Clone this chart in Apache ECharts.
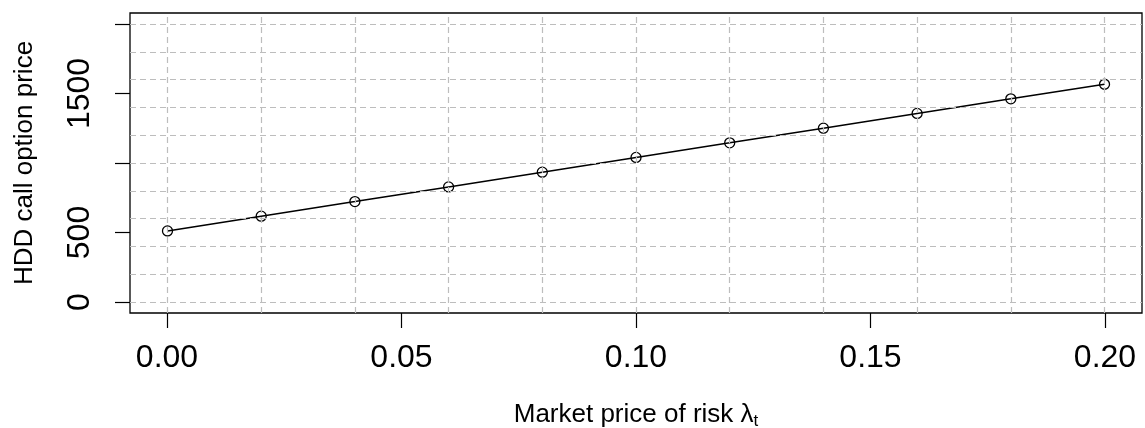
<!DOCTYPE html>
<html>
<head>
<meta charset="utf-8">
<script src="https://cdn.jsdelivr.net/npm/echarts@6/dist/echarts.min.js"></script>
<style>
html, body { margin: 0; padding: 0; background: #fff; }
#main { width: 1145px; height: 428px; }
</style>
</head>
<body>
<div id="main"></div>
<script>
// market price of risk (x) and HDD call option price (y)
var lambdaVals = [0, 0.02, 0.04, 0.06, 0.08, 0.10, 0.12, 0.14, 0.16, 0.18, 0.20];
var optionPrice = [511, 617, 722, 828, 934, 1040, 1145, 1251, 1357, 1462, 1567];

// grid lines (dashed), like R's grid()
var xGridVals = [0, 0.02, 0.04, 0.06, 0.08, 0.10, 0.12, 0.14, 0.16, 0.18, 0.20];
var yGridVals = [0, 200, 400, 600, 800, 1000, 1200, 1400, 1600, 1800, 2000];

// y tick labels, R drops the ones that would overlap
var yTickVals = [0, 500, 1000, 1500, 2000];
var yTickLabels = ['0', '500', '', '1500', ''];

var FONT = '"Liberation Sans", Arial, Helvetica, sans-serif';

var chart = echarts.init(document.getElementById('main'));

var gridLines = [];
xGridVals.forEach(function (v) { gridLines.push({ xAxis: v }); });
yGridVals.forEach(function (v) { gridLines.push({ yAxis: v }); });

var option = {
	animation: false,
	backgroundColor: '#fff',
	grid: [{
		// plot box (R adds 4% on each side)
		left: 130, right: 3, top: 13, bottom: 115,
		outerBoundsMode: 'none',
		containLabel: false,
		show: true,
		borderColor: '#000',
		borderWidth: 1.3,
		backgroundColor: 'transparent'
	}, {
		// x ticks: 0..0.2 across, sitting on the box bottom
		left: 167, right: 40, top: 13, bottom: 115,
		outerBoundsMode: 'none',
		containLabel: false
	}, {
		// y ticks: 0..2000 up, sitting on the box left
		left: 130, right: 3, top: 24, bottom: 126,
		outerBoundsMode: 'none',
		containLabel: false
	}],
	xAxis: [{
		gridIndex: 0,
		type: 'value',
		min: -0.008, max: 0.208,
		show: false
	}, {
		gridIndex: 1,
		type: 'value',
		min: 0, max: 0.2,
		interval: 0.05,
		axisLine: { show: false },
		axisTick: { show: true, length: 15, lineStyle: { color: '#000', width: 1.2 } },
		splitLine: { show: false },
		axisLabel: {
			margin: 29,
			color: '#000',
			fontSize: 32,
			fontFamily: FONT,
			formatter: function (v) { return v.toFixed(2); }
		},
		name: 'Market price of risk λ{sub|t}',
		nameLocation: 'middle',
		nameGap: 86,
		nameTextStyle: {
			color: '#000',
			fontSize: 26,
			fontFamily: FONT,
			rich: {
				sub: { fontSize: 17, fontFamily: FONT, color: '#000', verticalAlign: 'bottom', padding: [14, 0, 0, 0] }
			}
		}
	}, {
		gridIndex: 2,
		type: 'value',
		min: 0, max: 1,
		show: false
	}],
	yAxis: [{
		gridIndex: 0,
		type: 'value',
		min: -80, max: 2080,
		show: false
	}, {
		gridIndex: 1,
		type: 'value',
		min: 0, max: 1,
		show: false
	}, {
		gridIndex: 2,
		type: 'value',
		min: 0, max: 2000,
		interval: 500,
		axisLine: { show: false },
		axisTick: { show: true, length: 15, lineStyle: { color: '#000', width: 1.2 } },
		splitLine: { show: false },
		axisLabel: {
			rotate: 90,
			margin: 34,
			color: '#000',
			fontSize: 32,
			fontFamily: FONT,
			formatter: function (v) {
				var i = yTickVals.indexOf(v);
				return i >= 0 ? yTickLabels[i] : '';
			}
		},
		name: 'HDD call option price',
		nameLocation: 'middle',
		nameGap: 92,
		nameTextStyle: { color: '#000', fontSize: 26, fontFamily: FONT }
	}],
	series: [{
		// dashed reference grid
		type: 'line',
		xAxisIndex: 0, yAxisIndex: 0,
		data: [],
		z: 1,
		silent: true,
		markLine: {
			silent: true,
			symbol: 'none',
			label: { show: false },
			lineStyle: { color: '#bdbdbd', type: [6, 4], width: 1.2 },
			data: gridLines
		}
	}, {
		type: 'line',
		xAxisIndex: 0, yAxisIndex: 0,
		z: 3,
		data: lambdaVals.map(function (x, i) { return [x, optionPrice[i]]; }),
		symbol: 'circle',
		symbolSize: 10,
		showAllSymbol: true,
		lineStyle: { color: '#000', width: 1.5 },
		itemStyle: { color: 'rgba(0,0,0,0)', borderColor: '#000', borderWidth: 1.3 }
	}]
};
chart.setOption(option);
</script>
</body>
</html>
